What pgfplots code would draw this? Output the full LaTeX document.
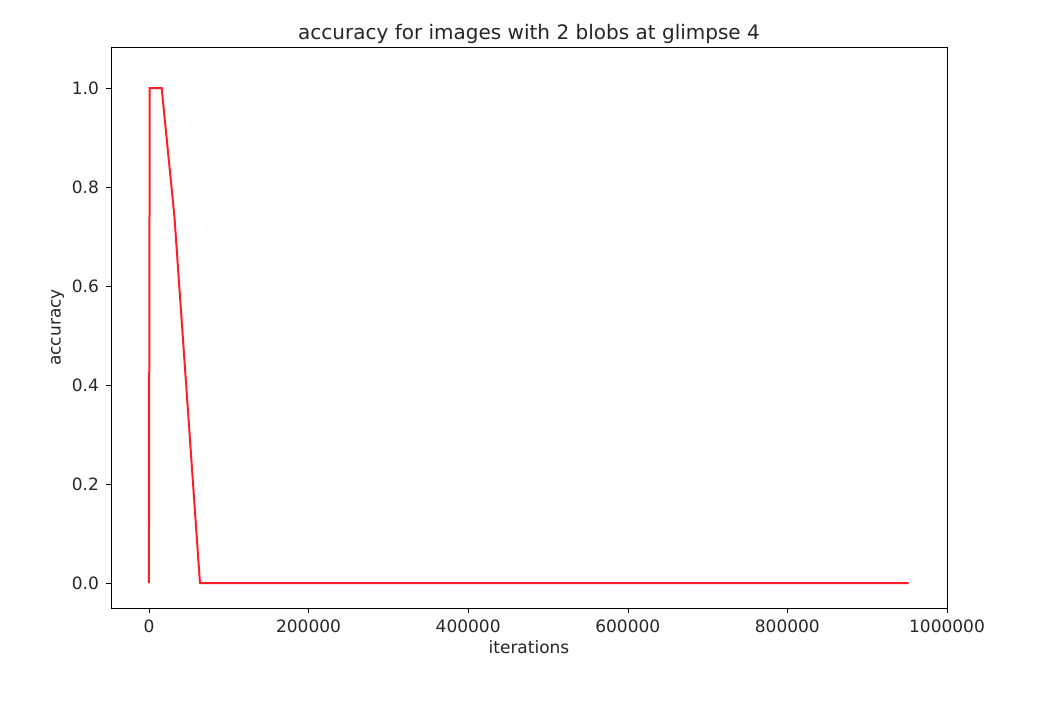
\documentclass[border=0pt]{standalone}
\usepackage{fontspec}
\setmainfont{DejaVu Sans}
\usepackage{pgfplots}
\pgfplotsset{compat=1.18}
\begin{document}
\begin{tikzpicture}
\path[fill=white] (0,0) rectangle (531pt,351pt);
\begin{axis}[at={(55.5pt,47pt)}, anchor=south west, scale only axis,
 width=418pt, height=280.5pt,
 xmin=-47500, xmax=1000000, ymin=-0.05, ymax=1.083,
 xtick={0,200000,400000,600000,800000,1000000},
 xticklabels={0,200000,400000,600000,800000,1000000},
 ytick={0,0.2,0.4,0.6,0.8,1.0},
 yticklabel style={/pgf/number format/.cd,fixed,fixed zerofill,precision=1},
 /pgf/number format/assume math mode=true,
 scaled x ticks=false,
 tick label style={font=\fontsize{8.5}{10}\selectfont, color=black!85},
 label style={font=\fontsize{8.5}{10}\selectfont, color=black!85},
 title style={font=\fontsize{10}{12}\selectfont, color=black!85, yshift=-8pt},
 tick align=outside, tick style={black}, major tick length=2.5pt,
 xtick pos=bottom, ytick pos=left,
 title={accuracy for images with 2 blobs at glimpse 4},
 xlabel={iterations}, ylabel={accuracy},
 xlabel style={yshift=3pt}, ylabel style={yshift=-3pt},
]
\addplot[color={rgb,255:red,255;green,30;blue,40}, line width=1pt] coordinates {
(0,0) (1000,1) (16000,1) (32000,0.74) (48000,0.37) (64000,0) (952000,0)};
\end{axis}
\end{tikzpicture}
\end{document}
